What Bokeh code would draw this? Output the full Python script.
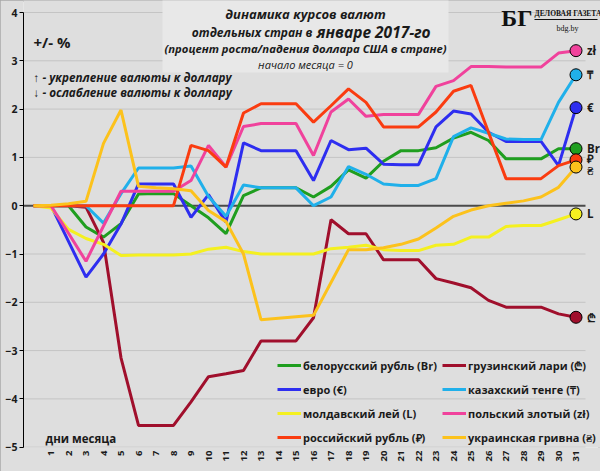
import math
from bokeh.plotting import figure
from bokeh.models import (Range1d, FixedTicker, Label, LabelSet, Legend,
                          LegendItem, BoxAnnotation, ColumnDataSource)
from bokeh.core.properties import value
from bokeh.embed import file_html
from bokeh.resources import INLINE

# ---------------- data ----------------
days = list(range(0, 32))          # 0 = start of month
tick_days = list(range(1, 32))
y_ticks = [-5, -4, -3, -2, -1, 0, 1, 2, 3, 4]

byn = [0, 0, 0, -0.44, -0.65, -0.37, 0.24, 0.25, 0.25, 0.0, -0.25, -0.58, 0.21, 0.37, 0.37, 0.37,
       0.18, 0.40, 0.74, 0.57, 0.92, 1.14, 1.14, 1.20, 1.40, 1.52, 1.35, 0.97, 0.97, 0.97, 1.18, 1.18]
gel = [0, 0, 0, -0.03, -0.76, -3.15, -4.55, -4.55, -4.55, -4.06, -3.54, -3.48, -3.41, -2.80, -2.80, -2.80,
       -2.32, -0.29, -0.58, -0.58, -1.12, -1.12, -1.12, -1.51, -1.60, -1.70, -1.96, -2.10, -2.10, -2.10, -2.24, -2.31]
eur = [0, 0, -0.74, -1.48, -1.00, -0.38, 0.45, 0.45, 0.45, -0.24, 0.23, -0.34, 1.30, 1.14, 1.14, 1.14,
       0.52, 1.35, 1.16, 1.19, 0.86, 0.85, 0.85, 1.63, 1.96, 1.90, 1.52, 1.33, 1.33, 1.33, 0.83, 2.03]
kzt = [0, 0, 0, 0, -0.36, 0.25, 0.78, 0.78, 0.78, 0.82, 0.19, -0.22, 0.43, 0.37, 0.37, 0.37,
       0.0, 0.18, 0.81, 0.65, 0.45, 0.42, 0.42, 0.56, 1.43, 1.61, 1.50, 1.38, 1.37, 1.37, 2.14, 2.71]
mdl = [0, -0.05, -0.49, -0.68, -0.80, -1.03, -1.02, -1.02, -1.02, -1.00, -0.90, -0.86, -0.95, -1.00, -1.00, -1.00,
       -1.00, -0.89, -0.86, -0.82, -0.91, -0.93, -0.93, -0.82, -0.80, -0.65, -0.65, -0.43, -0.41, -0.41, -0.29, -0.17]
pln = [0, 0, -0.57, -1.15, -0.42, 0.30, 0.30, 0.30, 0.30, 0.52, 1.25, 0.80, 1.64, 1.70, 1.70, 1.70,
       1.04, 1.94, 2.21, 1.85, 1.89, 1.89, 1.89, 2.47, 2.59, 2.88, 2.88, 2.87, 2.87, 2.87, 3.16, 3.21]
rub = [0, 0, 0, 0, 0, 0, 0, 0, 0, 1.25, 1.14, 0.80, 1.92, 2.11, 2.11, 2.11,
       1.73, 2.07, 2.42, 2.14, 1.63, 1.63, 1.63, 1.94, 2.37, 2.49, 1.52, 0.56, 0.56, 0.56, 0.83, 0.95]
uah = [0, 0.01, 0.04, 0.09, 1.29, 1.98, 0.40, 0.37, 0.35, 0.31, -0.10, -0.33, -1.00, -2.36, -2.33, -2.30,
       -2.27, -1.59, -0.91, -0.91, -0.87, -0.80, -0.69, -0.46, -0.22, -0.09, 0.0, 0.05, 0.10, 0.18, 0.38, 0.80]

names = ["белорусский рубль (Br)", "грузинский лари (₾)", "евро (€)", "казахский тенге (₸)",
         "молдавский лей (L)", "польский злотый (zł)", "российский рубль (₽)", "украинская гривна (₴)"]
symbols = ["Br", "₾", "€", "₸", "L", "zł", "₽", "₴"]
series = [byn, gel, eur, kzt, mdl, pln, rub, uah]
colors = ["#1f9e1f", "#a00f2c", "#2e2ef0", "#20b0ea", "#f4f020", "#f0429c", "#fa3c10", "#fcc21c"]
sym_dy = [0, 0, 0, 0, 0, 0, 1, -3]   # small pixel nudges of end labels

# ---------------- helpers for placing text (reference pixel -> data) --------
def X(rx):
    return (rx - 33) / 17.5

def Y(ry):
    return (205.2 - ry) / 48.3

BG = "#dedede"
FONT = "Open Sans"
TXT = "#1a1a1a"

p = figure(width=600, height=471, output_backend="svg", toolbar_location=None,
           x_range=Range1d(X(23), X(600)), y_range=Range1d(Y(447), Y(0)),
           min_border_left=23, min_border_right=0, min_border_top=0, min_border_bottom=24)
p.background_fill_color = BG
p.border_fill_color = BG
p.outline_line_color = None
p.styles = {"outline": "2px solid #a8a8a8", "outline-offset": "-2px"}

p.xgrid.visible = False
p.ygrid.visible = False

# horizontal gridlines limited to the plot area (axis -> right end)
grid_y = [t for t in y_ticks if t != 0]
p.segment(x0=[X(23)] * len(grid_y), x1=[X(585)] * len(grid_y), y0=grid_y, y1=grid_y,
          line_color="#c4c4c4", line_width=1)
p.segment(x0=[X(23)], x1=[X(585)], y0=[0], y1=[0], line_color="#4a4a4a", line_width=2)

p.yaxis.ticker = FixedTicker(ticks=y_ticks)
p.yaxis.bounds = (-5, 4)
p.yaxis.axis_line_color = "black"
p.yaxis.major_tick_out = 4
p.yaxis.major_tick_in = 0
p.yaxis.minor_tick_line_color = None
p.yaxis.major_label_standoff = 2
p.yaxis.major_label_text_font = FONT
p.yaxis.major_label_text_font_style = "bold"
p.yaxis.major_label_text_font_size = "10.5px"
p.yaxis.major_label_text_color = TXT

p.xaxis.ticker = FixedTicker(ticks=tick_days)
p.xaxis.major_label_orientation = math.pi / 2
p.xaxis.axis_line_color = None
p.xaxis.major_tick_line_color = None
p.xaxis.major_tick_out = 0
p.xaxis.major_tick_in = 0
p.xaxis.minor_tick_line_color = None
p.xaxis.major_label_standoff = 3
p.xaxis.major_label_text_font = FONT
p.xaxis.major_label_text_font_style = "bold"
p.xaxis.major_label_text_font_size = "9.5px"
p.xaxis.major_label_text_color = TXT

renderers = []
for vals, col in zip(series, colors):
    r = p.line(days, vals, line_color=col, line_width=3)
    renderers.append(r)

ends = [s[-1] for s in series]
p.scatter([days[-1]] * len(ends), ends, size=12, fill_color=colors, line_color="black", line_width=1)

src = ColumnDataSource(dict(x=[days[-1]] * len(ends), y=ends, t=symbols, dy=sym_dy))
p.add_layout(LabelSet(x="x", y="y", text="t", source=src, x_offset=11, y_offset="dy",
                      text_font=value(FONT), text_font_style="bold", text_font_size="11.5px",
                      text_color=TXT, text_baseline="middle"))

# legends (two columns)
def mk_legend(idx, loc):
    lg = Legend(items=[LegendItem(label=names[i], renderers=[renderers[i]]) for i in idx],
                location=loc, orientation="vertical", glyph_width=24, glyph_height=16,
                label_height=16, label_standoff=2, spacing=8, padding=0, margin=0,
                background_fill_alpha=0, border_line_color=None,
                label_text_font=FONT, label_text_font_style="bold", label_text_font_size="11px",
                label_text_color=TXT)
    p.add_layout(lg)

mk_legend([0, 2, 4, 6], (254, 2))
mk_legend([1, 3, 5, 7], (419, 2))

# title box
p.add_layout(BoxAnnotation(left=X(162), right=X(448), top=Y(-5), bottom=Y(72),
                           fill_color="#e8e8e8", fill_alpha=1.0, line_color=None, level="annotation"))

def lab(txt, rx, ry, size, style="bold", align="left", font=FONT, color=TXT):
    p.add_layout(Label(x=X(rx), y=Y(ry), text=txt, text_font=font, text_font_size=size,
                       text_font_style=style, text_align=align, text_baseline="middle",
                       text_color=color))

lab("динамика курсов валют", 305, 13, "13px", "bold italic", "center")
lab("отдельных стран в", 312, 32, "12px", "bold italic", "right")
lab("январе 2017-го", 316, 31, "15.5px", "bold italic", "left")
lab("(процент роста/падения доллара США в стране)", 305, 48, "11.3px", "bold italic", "center")
lab("начало месяца = 0", 305, 64, "11px", "italic", "center")

lab("+/- %", 33, 41, "15px", "bold", "left")
lab("↑ - укрепление валюты к доллару", 33, 76, "11.7px", "bold italic", "left")
lab("↓ - ослабление валюты к доллару", 33, 91, "11.7px", "bold italic", "left")
lab("дни месяца", 45, 438, "11.5px", "bold", "left")

# logo
lab("БГ", 532, 17, "24px", "bold", "right", "Liberation Serif", "#111111")
lab("ДЕЛОВАЯ ГАЗЕТА", 534, 13, "7.5px", "bold", "left", "Liberation Serif", "#111111")
p.segment(x0=[X(534)], x1=[X(597)], y0=[Y(19)], y1=[Y(19)], line_color="#111111", line_width=1)
lab("bdg.by", 567, 28, "8px", "normal", "center", "Liberation Serif", "#111111")

open("out.html", "w").write(file_html(p, INLINE))
